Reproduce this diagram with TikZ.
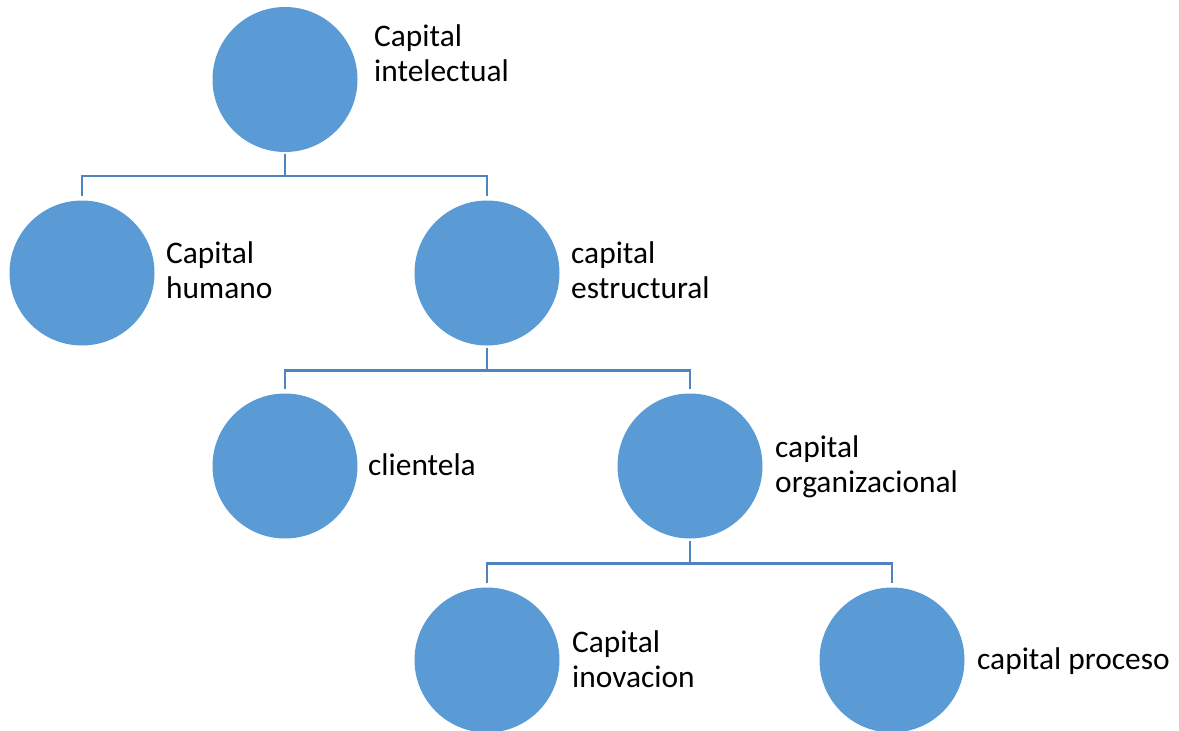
\documentclass[tikz,border=0pt]{standalone}
\usepackage{fontspec}
\setmainfont{Carlito}
\definecolor{cfill}{HTML}{5B9BD5}
\definecolor{cline}{HTML}{4F84C0}
\begin{document}
\begin{tikzpicture}[x=1pt,y=-1pt,
  bubble/.style={circle,fill=cfill,minimum size=145pt,inner sep=0pt},
  lbl/.style={anchor=base west,inner sep=0pt,align=left,font=\fontsize{31.4}{35}\selectfont,text=black},
  conn/.style={draw=cline,line width=2.8pt}]
\useasboundingbox (0,0) rectangle (1179,731);
% circles
\node[bubble] (ci) at (285,79.5) {};
\node[bubble] (hu) at (82,273) {};
\node[bubble] (es) at (487,273) {};
\node[bubble] (cl) at (285,466) {};
\node[bubble] (or) at (690,466) {};
\node[bubble] (in) at (487,660) {};
\node[bubble] (pr) at (892,660) {};
% labels (anchor = baseline of last line)
\node[lbl] (tci) at (374,81) {Capital\\intelectual};
\node[lbl] (thu) at (166,298) {Capital\\humano};
\node[lbl] (tes) at (571,298) {capital\\estructural};
\node[lbl] (tcl) at (368,475) {clientela};
\node[lbl] (tor) at (775,492) {capital\\organizacional};
\node[lbl] (tin) at (572,687) {Capital\\inovacion};
\node[lbl] (tpr) at (977,669) {capital proceso};
% connectors
\coordinate (b1) at (285,176);
\coordinate (b2) at (487,370.5);
\coordinate (b3) at (690,563.5);
\draw[conn] ([yshift=-2pt]ci.south) -- (b1);
\draw[conn] ([yshift=4pt]hu.north) |- (b1) -| ([yshift=4pt]es.north);
\draw[conn] ([yshift=-2pt]es.south) -- (b2);
\draw[conn] ([yshift=4pt]cl.north) |- (b2) -| ([yshift=4pt]or.north);
\draw[conn] ([yshift=-2pt]or.south) -- (b3);
\draw[conn] ([yshift=4pt]in.north) |- (b3) -| ([yshift=4pt]pr.north);
\end{tikzpicture}
\end{document}
